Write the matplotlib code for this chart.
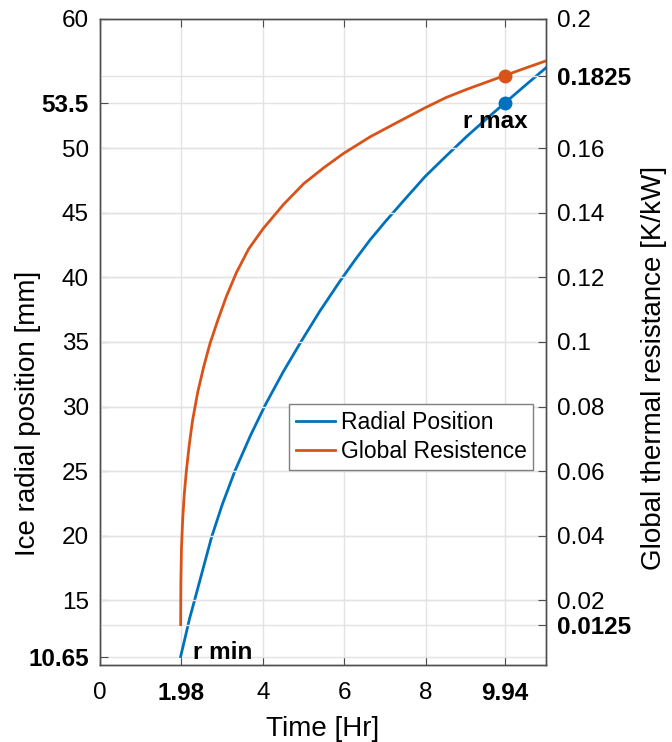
import matplotlib
matplotlib.use("Agg")
import matplotlib.pyplot as plt

plt.rcParams['font.family'] = ['Liberation Sans', 'DejaVu Sans']

# Data
time_r = [1.98, 2.10, 2.20, 2.33, 2.50, 2.74, 3.00, 3.31, 3.70, 4.07, 4.50, 4.95,
          5.40, 5.89, 6.25, 6.63, 7.00, 7.50, 7.98, 8.50, 9.00, 9.50, 9.94, 10.40, 10.94]
radial = [10.65, 12.25, 13.6, 15.1, 17.1, 19.9, 22.4, 25.0, 27.8, 30.2, 32.7, 35.1,
          37.4, 39.7, 41.3, 42.9, 44.3, 46.1, 47.8, 49.4, 50.9, 52.3, 53.5, 54.75, 56.2]

time_g = [1.980, 1.985, 2.00, 2.03, 2.07, 2.12, 2.19, 2.27, 2.40, 2.55, 2.70, 2.90,
          3.10, 3.35, 3.65, 4.00, 4.50, 5.00, 5.50, 5.97, 6.63, 7.30, 7.98, 8.50,
          9.00, 9.50, 9.94, 10.40, 10.94]
resist = [0.0125, 0.025, 0.036, 0.045, 0.053, 0.060, 0.068, 0.0755, 0.0845, 0.0925,
          0.0995, 0.1070, 0.1140, 0.1215, 0.1288, 0.1350, 0.1425, 0.149, 0.154, 0.1583,
          0.1635, 0.168, 0.1725, 0.1757, 0.1782, 0.1805, 0.1825, 0.1846, 0.187]

x_ticks = [0, 1.98, 4, 6, 8, 9.94]
x_bold = [1.98, 9.94]
left_ticks = [10.65, 15, 20, 25, 30, 35, 40, 45, 50, 53.5, 60]
left_bold = [10.65, 53.5]
right_ticks = [0.0125, 0.02, 0.04, 0.06, 0.08, 0.1, 0.12, 0.14, 0.16, 0.1825, 0.2]
right_bold = [0.0125, 0.1825]

r_max = (9.94, 53.5)
g_max = (9.94, 0.1825)

BLUE = '#0072BD'
ORANGE = '#D95319'
GRID = '#e3e3e3'
AXC = '#4d4d4d'

fig = plt.figure(figsize=(6.72, 7.42), dpi=100)
ax1 = fig.add_axes([0.1488, 0.1038, 0.8125 - 0.1488, 0.9744 - 0.1038])
ax2 = ax1.twinx()

ax1.set_xlim(0, 10.95)
ax1.set_ylim(10, 60)
ax2.set_ylim(0, 0.2)

l1, = ax1.plot(time_r, radial, color=BLUE, lw=2.0, label='Radial Position', zorder=3)
ax1.plot([r_max[0]], [r_max[1]], 'o', color=BLUE, ms=9, zorder=4)
l2, = ax2.plot(time_g, resist, color=ORANGE, lw=2.0, label='Global Resistence', zorder=3)
ax2.plot([g_max[0]], [g_max[1]], 'o', color=ORANGE, ms=9, zorder=4)

def fmt(v):
    return '%g' % v

ax1.set_xticks(x_ticks)
ax1.set_xticklabels([fmt(v) for v in x_ticks])
ax1.set_yticks(left_ticks)
ax1.set_yticklabels([fmt(v) for v in left_ticks])
ax2.set_yticks(right_ticks)
ax2.set_yticklabels([fmt(v) for v in right_ticks])

for lab, v in zip(ax1.get_xticklabels(), x_ticks):
    if v in x_bold:
        lab.set_fontweight('bold')
for lab, v in zip(ax1.get_yticklabels(), left_ticks):
    if v in left_bold:
        lab.set_fontweight('bold')
for lab, v in zip(ax2.get_yticklabels(), right_ticks):
    if v in right_bold:
        lab.set_fontweight('bold')

for ax in (ax1, ax2):
    ax.set_axisbelow(True)
    ax.grid(True, color=GRID, lw=1.0)
    for s in ax.spines.values():
        s.set_color(AXC)
        s.set_linewidth(1.0)
ax2.grid(axis='x', visible=False)

TS = 17.5
ax1.tick_params(axis='x', direction='in', length=6, top=True, labelsize=TS, color=AXC, pad=12)
ax1.tick_params(axis='y', direction='in', length=6, labelsize=TS, color=AXC, pad=8)
ax2.tick_params(axis='y', direction='in', length=6, labelsize=TS, color=AXC, pad=8)

ax1.set_xlabel('Time [Hr]', fontsize=20, labelpad=8)
ax1.set_ylabel('Ice radial position [mm]', fontsize=20)
ax2.set_ylabel('Global thermal resistance [K/kW]', fontsize=20)
ax1.yaxis.set_label_coords(-0.132, 0.39)
ax2.yaxis.set_label_coords(1.213, 0.46)

ax1.text(2.28, 10.45, 'r min', fontsize=17.5, fontweight='bold', ha='left', va='baseline')
ax1.text(9.7, 51.55, 'r max', fontsize=17.5, fontweight='bold', ha='center', va='baseline')

leg = ax2.legend(handles=[l1, l2], loc='lower left', bbox_to_anchor=(0.424, 0.302),
                 fontsize=16.5, frameon=True, fancybox=False, framealpha=1,
                 edgecolor='#7f7f7f', borderpad=0.3, handlelength=1.7,
                 handletextpad=0.25, labelspacing=0.25, borderaxespad=0)
leg.get_frame().set_linewidth(1.0)

fig.savefig('out.png', dpi=100)
